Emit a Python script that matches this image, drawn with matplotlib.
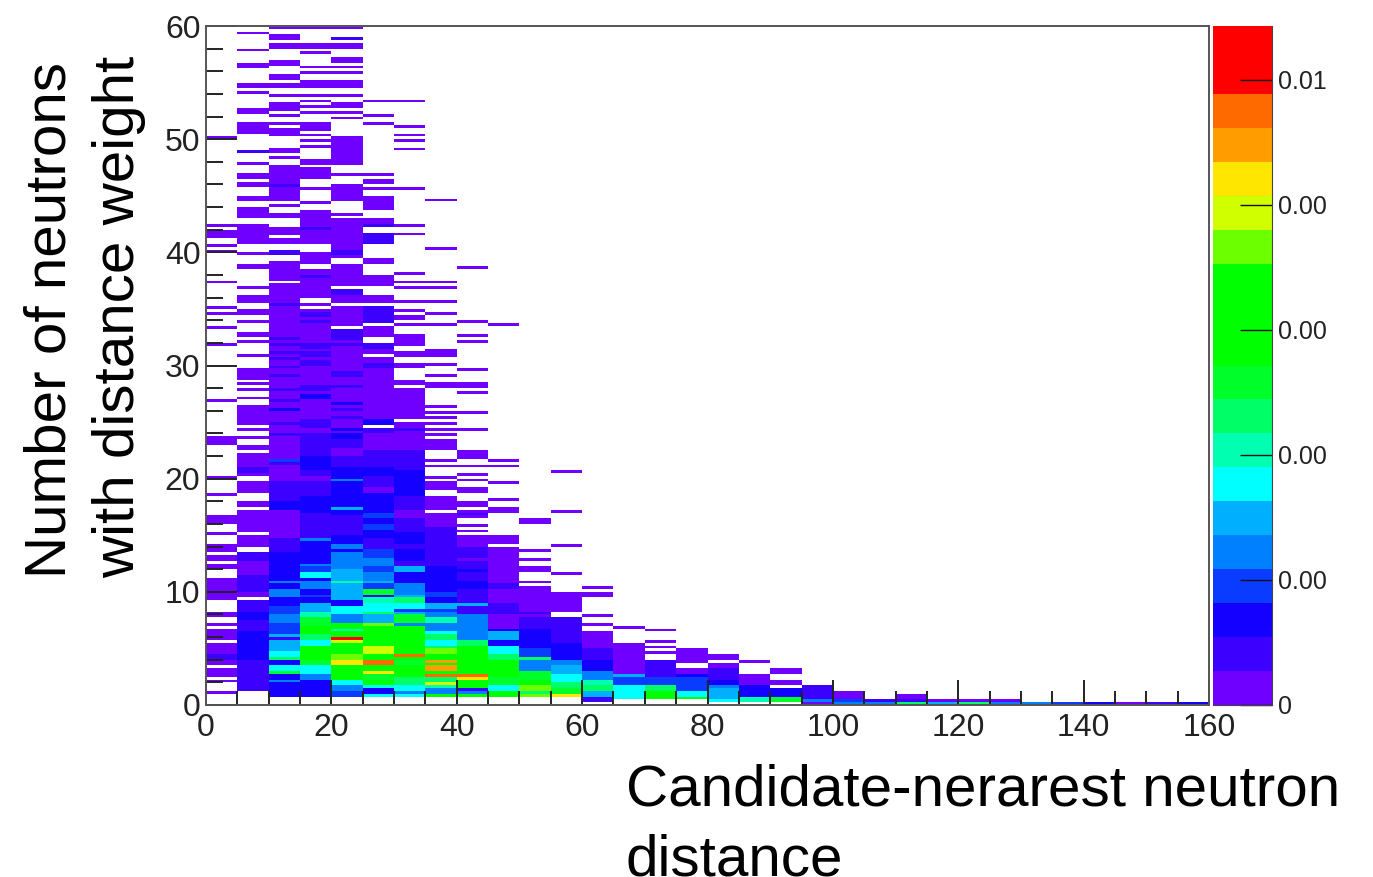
import numpy as np
import matplotlib
matplotlib.use('Agg')
import matplotlib.pyplot as plt
from matplotlib.colors import ListedColormap, BoundaryNorm

plt.rcParams['font.family'] = ['Liberation Sans', 'DejaVu Sans']

# palette steps of the colour bar, bottom to top (19 and 20 are both red)
level_colors = ['#6f00ff', '#3c00ff', '#1400ff', '#0a3cff', '#0080ff', '#00b0ff', '#00ffff',
                '#00ffb0', '#00ff66', '#00ff2a', '#00ff00', '#00ff00', '#00ff00', '#6cff00',
                '#d0ff00', '#ffe600', '#ff9c00', '#ff6a00', '#ff0000', '#ff0000']
z_max = 0.01086
z_ticks = [0, 0.002, 0.004, 0.006, 0.008, 0.01]
z_labels = ['0', '0.00', '0.00', '0.00', '0.00', '0.01']

x_edges = np.arange(0, 165, 5)
y_edges = np.arange(0, 60.25, 0.25)

# one list per 5-wide x bin: (y from, y to, colour step)
col_00 = [(50, 50.25, 1), (42.25, 42.5, 1), (41.25, 41.75, 1), (41.75, 42, 1), (40.5, 40.75, 1), (40, 40.25, 1),
          (37.25, 37.5, 1), (35, 35.25, 1), (34.5, 34.75, 1), (33.25, 33.5, 1), (31.75, 32, 1), (26.75, 27, 1),
          (23, 23.75, 1), (20, 20.25, 1), (18.5, 18.75, 1), (16, 16.75, 1), (15, 15.25, 1), (13.5, 14.25, 1),
          (12.75, 13.25, 1), (12, 12.5, 1), (10, 11.25, 1), (9.25, 10, 1), (7.75, 8.25, 1), (7, 7.25, 1),
          (5.75, 6.75, 1), (5.25, 5.5, 1), (3.5, 5.25, 1), (4, 4.5, 2), (2.5, 3.25, 1), (2, 2.25, 1), (1, 1.25, 1)]
col_01 = [(59.25, 59.5, 1), (57.75, 58, 1), (56.25, 56.75, 1), (54.75, 55, 1), (54.5, 54.75, 1), (54, 54.25, 1),
          (52.25, 52.75, 1), (51, 51.5, 1), (50.5, 51, 1), (48.75, 49, 2), (47.75, 48, 1), (46.5, 47, 1),
          (45.75, 46.25, 1), (44.5, 45, 1), (43, 44, 1), (41, 42.5, 1), (40.75, 41, 1), (39.75, 40, 1), (38.5, 39, 1),
          (36.75, 37, 1), (35.5, 36.25, 1), (34.5, 35, 1), (33.75, 34, 1), (32.5, 33, 1), (32, 32.25, 1),
          (30.75, 31, 1), (28.75, 29.75, 1), (28.25, 28.5, 1), (27.75, 28, 1), (27, 27.25, 1), (24.75, 26.5, 1),
          (24.25, 24.5, 1), (23.5, 23.75, 1), (22.5, 23, 1), (20.25, 22.25, 1), (20.5, 21, 2), (18.75, 19.75, 1),
          (17.5, 18, 1), (15.25, 17.25, 1), (14, 15, 1), (12.75, 13.5, 2), (11.5, 12.75, 1), (10, 11.5, 2), (9.5, 10, 1),
          (8.25, 9.25, 2), (7.5, 8.25, 3), (6.5, 7.5, 2), (5.5, 6.5, 3), (4, 5.5, 3), (3.5, 4, 2), (2.5, 3.5, 2), (1.25, 2.5, 2)]
col_02 = [(0.75, 23, 2), (59.75, 60, 1), (58.75, 59.25, 1), (58, 58.5, 1), (56.5, 57, 1), (55.25, 55.75, 1), (54.5, 55, 1), (53.75, 54, 1),
          (52.5, 53.25, 1), (52, 52.25, 1), (51.25, 51.5, 1), (50.25, 51, 1), (48.75, 49.25, 1), (48.25, 48.5, 1),
          (44.5, 47.75, 1), (45.75, 46, 2), (44, 44.25, 1), (43, 43.5, 1), (41.5, 42.25, 1), (40.75, 41.25, 1),
          (39.75, 40.25, 2), (37.5, 39.25, 1), (23, 37.25, 1), (35.25, 35.5, 2), (32.25, 32.5, 2), (31.75, 32, 2),
          (31, 31.25, 2), (30.5, 30.75, 2), (29.75, 30, 2), (29, 29.25, 2), (28.25, 28.5, 1), (27.75, 28, 2),
          (26.75, 27, 2), (26, 26.25, 3), (24.75, 25, 2), (23.75, 24, 2), (21.75, 23.5, 1), (21.5, 21.75, 4), (21.25, 21.5, 2),
          (19.75, 21.25, 1), (18, 19.75, 2), (17.25, 18, 3), (14.75, 17.25, 1), (13.5, 14.75, 2), (11.75, 13.5, 3), (11, 11.75, 3),
          (10.75, 11, 5), (10.25, 10.75, 3), (9.5, 10.25, 5), (8.75, 9.5, 3), (8, 8.75, 4), (7.25, 8, 5), (6.25, 7.25, 4),
          (6, 6.25, 6), (5.25, 5.75, 6), (4.75, 5.25, 6), (4.25, 4.75, 7), (4, 4.25, 9), (3.5, 4, 3), (3, 3.5, 7),
          (2.75, 3, 10), (2.25, 2.75, 3), (2, 2.25, 5), (0.75, 2, 3)]
col_03 = [(0.75, 24, 3), (59.75, 60, 1), (58, 58.5, 1), (57.5, 57.75, 1), (56.25, 56.5, 1), (55.75, 56, 1), (54.5, 55.25, 1),
          (53.75, 54, 1), (53.25, 53.5, 1), (52.75, 53, 1), (52.25, 52.5, 1), (50.75, 51.5, 1), (50.25, 50.5, 1),
          (49.75, 50, 1), (49.25, 49.5, 1), (47.75, 48.25, 1), (46.5, 47.5, 1), (45.5, 45.75, 1), (44.25, 44.5, 1),
          (42.75, 43.75, 1), (41, 42.75, 1), (42, 42.25, 2), (41, 42, 1), (40.75, 41, 1), (39, 40, 1),
          (36, 38.5, 1), (37.75, 38, 2), (35.25, 35.5, 1), (24, 35, 1), (34.25, 34.75, 2), (33.75, 34, 2),
          (31.5, 32, 2), (30.75, 31.25, 2), (30, 30.5, 2), (27.75, 28.25, 2), (27, 27.5, 3), (24.5, 25.25, 2), (23.25, 24, 2),
          (22, 23.5, 2), (20.75, 22, 3), (20.25, 20.75, 2), (19.75, 20.25, 1), (18.5, 19.75, 2), (17, 18.5, 3),
          (14.75, 17, 2), (14.5, 14.75, 5), (12.5, 14.5, 3), (12.25, 12.5, 5), (11.75, 12.25, 4), (11.25, 11.75, 7),
          (11, 11.25, 3), (10.25, 11, 5), (9.75, 10.25, 3), (9.5, 9.75, 4), (9, 9.5, 3), (8.25, 9, 6), (7.75, 8.25, 8),
          (7, 7.75, 10), (6.25, 7, 11), (5.75, 6.25, 9), (5.25, 5.75, 7), (4, 5.25, 11), (3.5, 4, 10), (2.75, 3.5, 7),
          (2.25, 2.75, 5), (0.75, 2.25, 3)]
col_04 = [(0.75, 24, 3), (59.75, 60, 1), (58.75, 59, 2), (58, 58.5, 1), (56.75, 57.25, 1), (56.25, 56.5, 1), (55.75, 56, 1), (55, 55.25, 1),
          (54.5, 55, 1), (53.75, 54, 1), (52.75, 53.25, 1), (52.25, 52.5, 1), (51.75, 52, 1), (49.25, 50.25, 1),
          (48.25, 49.25, 1), (47.75, 48.25, 1), (46.75, 47, 1), (45, 46, 1), (44.5, 45, 1), (43.25, 43.5, 1),
          (41.75, 43, 1), (41, 41.75, 1), (41.5, 42, 1), (39.5, 41.25, 1), (39.75, 40.25, 2), (37, 39, 1), (35.5, 36.75, 1),
          (36.25, 36.75, 2), (33.5, 35.25, 1), (24, 33.25, 1), (32.25, 33.25, 2), (31.75, 32, 2), (29, 29.5, 2),
          (28, 28.25, 2), (26.5, 26.75, 3), (26, 26.25, 2), (25.25, 25.5, 2), (24.25, 24.5, 3), (23, 23.75, 3),
          (22.75, 23.5, 2), (22, 22.75, 1), (21, 22, 2), (20, 21, 3), (19.75, 20, 5), (18.75, 19.75, 3), (17.5, 18.75, 3),
          (17.25, 17.5, 6), (16.75, 17.25, 3), (15, 16.75, 2), (14.25, 15, 3), (13.75, 14.25, 5), (13.5, 13.75, 3),
          (12.75, 13.5, 5), (12, 12.75, 5), (11.25, 12, 6), (11, 11.25, 6), (10.75, 11, 8), (10.25, 10.75, 6),
          (9.25, 10.25, 6), (8.75, 9, 3), (8, 8.75, 7), (7.25, 8, 5), (6.75, 7.25, 11), (6.5, 6.75, 8), (6, 6.5, 11),
          (5.75, 6, 19), (5.5, 5.75, 15), (4.5, 5.5, 11), (4, 4.5, 14), (3.5, 4, 16), (3, 3.5, 11), (2.75, 3, 13),
          (2.25, 2.75, 11), (1.75, 2.25, 7), (1.25, 1.75, 5), (0.75, 1.25, 4)]
col_05 = [(0.75, 23, 3), (53.25, 53.5, 1), (52, 52.25, 1), (51.25, 51.5, 1), (46.75, 47, 1), (46, 46.5, 1), (45.5, 45.75, 1),
          (43.75, 45, 1), (42.25, 43, 1), (42.25, 42.5, 2), (41.25, 41.75, 2), (40.75, 41.5, 2), (39, 39.5, 1),
          (37, 38, 1), (35.5, 36.25, 1), (33.75, 35.25, 2), (32.5, 33.5, 1), (31, 32, 1), (31.5, 32, 2), (27.25, 30.75, 1),
          (29.75, 30.25, 2), (25.25, 27.25, 1), (24.75, 25.25, 3), (24, 24.5, 2), (23, 24, 1),
          (22.5, 23.5, 1), (22, 22.5, 2), (21, 22, 2), (20.25, 21, 3), (19, 20.25, 2), (18.75, 19.25, 1), (17, 18.75, 3),
          (16.5, 17, 4), (16, 16.5, 3), (15.5, 16, 4), (14.75, 15.5, 3), (13.75, 14.75, 2), (13.25, 13.75, 4), (13, 13.25, 4),
          (12.25, 13, 5), (11.75, 12.25, 4), (11, 11.75, 5), (10.75, 11, 6), (10.25, 10.75, 4), (9.75, 10.25, 10),
          (9.5, 9.75, 3), (9, 9.5, 8), (8.25, 9, 7), (8, 8.25, 9), (7.25, 8, 6), (7, 7.25, 14), (6.5, 7, 11), (6.25, 6.5, 12),
          (5.25, 6.25, 11), (4.5, 5.25, 15), (4, 4.5, 12), (3.5, 4, 18), (3, 3.5, 11), (2.75, 3, 16), (2.25, 2.75, 10),
          (1.75, 2.25, 12), (1.5, 1.75, 7), (1, 1.5, 3), (0.75, 1, 7)]
col_06 = [(0.75, 23, 3), (53.25, 53.5, 1), (51, 51.25, 1), (50.25, 50.5, 1), (49.75, 50, 1), (49, 49.25, 1), (45.5, 45.75, 1),
          (42.25, 42.5, 1), (41.5, 41.75, 1), (38, 38.25, 1), (37.25, 37.5, 1), (36.75, 37, 1), (35.5, 35.75, 1),
          (34.75, 35, 1), (34, 34.5, 1), (33.5, 33.75, 1), (31.75, 32.75, 1), (30.75, 31.25, 1), (29.75, 30.25, 1),
          (28.25, 28.75, 1), (27.5, 28, 1), (25.25, 27.5, 1), (23.25, 25, 1), (24.25, 24.5, 2),
          (22.5, 23.25, 1), (20.75, 22.5, 2), (20.25, 20.75, 3), (19.25, 20.25, 3), (18.5, 19.25, 3), (17.25, 18.5, 2),
          (16.5, 17.25, 1), (15.25, 16.5, 2), (14.25, 15, 3), (13.75, 14.25, 2), (12.75, 13.75, 3), (12.25, 12.75, 2),
          (11.75, 12.25, 6), (10.75, 11.75, 3), (10.25, 10.75, 5), (9.75, 10.25, 5), (9.5, 9.75, 6), (9, 9.5, 9),
          (8.5, 9, 7), (8.25, 8.5, 4), (8, 8.25, 6), (7.25, 8, 10), (7, 7.25, 5), (5.75, 7, 12), (4.75, 5.75, 12),
          (4.25, 4.5, 18), (4.5, 4.75, 12), (4, 4.25, 12), (3.5, 4, 10), (3, 3.5, 12), (2.5, 3, 11), (1.75, 2.5, 9),
          (1.25, 1.75, 7), (1, 1.25, 5), (0.75, 1, 7)]
col_07 = [(0.75, 13, 3), (44.5, 44.75, 1), (40.25, 40.5, 1), (37.25, 37.5, 1), (36.75, 37, 1), (35.5, 35.75, 1), (34.5, 34.75, 1),
          (33.5, 33.75, 1), (30.75, 31.5, 1), (30, 30.25, 1), (29, 29.25, 1), (28, 28.5, 1), (26.25, 26.5, 1),
          (25.75, 26, 1), (25.25, 25.5, 1), (24.75, 25, 1), (24.25, 24.5, 1), (23.75, 24, 1), (23.25, 23.5, 1),
          (22.5, 23, 1), (23, 23.25, 1), (21.5, 21.75, 1), (21, 21.25, 1), (20, 20.25, 1), (19, 19.75, 1), (17.25, 18.5, 1),
          (15.75, 17, 1), (13, 15.75, 2), (12.25, 13, 2), (11, 12.25, 3), (10.25, 11, 3), (9.5, 10, 4), (8.5, 9, 6),
          (8.25, 8.5, 4), (7.75, 8.25, 5), (7.25, 7.75, 8), (6.5, 7.25, 5), (6.25, 6.5, 7), (5.75, 6.25, 9), (5.25, 5.75, 7),
          (5, 5.25, 9), (4.5, 5, 14), (4, 4.5, 12), (3.75, 4, 17), (3.5, 3.75, 11), (3, 3.5, 17), (2.75, 3, 11),
          (2.5, 2.75, 18), (2, 2.5, 9), (1.75, 2, 15), (1.5, 1.75, 8), (1, 1.5, 5), (0.75, 1, 11)]
col_08 = [(0.75, 12.75, 2), (38.5, 38.75, 1), (33.75, 34, 1), (32.5, 32.75, 1), (32, 32.25, 1), (29.5, 29.75, 1), (28, 28.5, 1),
          (27.5, 27.75, 1), (25.75, 26, 1), (24.25, 24.5, 1), (21.75, 22.5, 1), (21, 21.25, 1), (20.25, 20.5, 1), (19.75, 20, 1),
          (18.75, 19.25, 1), (17.5, 18, 1), (16.5, 17.25, 1), (16.75, 17, 2), (15.75, 16, 1), (15.25, 15.5, 1),
          (12.75, 15, 1), (13, 14, 2), (12, 12.75, 2), (11.75, 12, 3), (11, 11.75, 2), (10.25, 11, 3), (9, 10.25, 2), (8.75, 9, 6),
          (8, 8.75, 2), (6.75, 8, 5), (5.75, 6.75, 5), (5.25, 5.75, 9), (4, 5.25, 11), (3.5, 4, 11), (3, 3.5, 13),
          (2.75, 3, 11), (2.5, 2.75, 18), (2.25, 2.5, 16), (1.5, 2.25, 12), (1.25, 1.5, 2), (1, 1.25, 5), (0.75, 1, 11)]
col_09 = [(0.75, 10.75, 1), (33.5, 33.75, 1), (21.5, 21.75, 1), (21, 21.25, 1), (19.5, 19.75, 1), (18, 18.25, 1), (17, 17.5, 1),
          (14.25, 15, 1), (13.75, 14, 1), (10.75, 13.75, 1), (10.25, 10.75, 2), (9, 10.25, 1), (8, 9, 2), (6.75, 8, 1),
          (6.5, 6.75, 3), (5.75, 6.5, 6), (5.25, 5.75, 3), (4.5, 5.25, 7), (4, 4.5, 9), (3, 4, 11), (2.5, 3, 11),
          (1.75, 2.5, 10), (1.25, 1.75, 7), (0.75, 1.25, 11)]
col_10 = [(0.75, 8.25, 2), (16, 16.5, 1), (13.5, 13.75, 1), (12.75, 13, 1), (11.75, 12.25, 1), (10.75, 11, 1), (8.25, 10.5, 1), (7.75, 8, 1),
          (6.75, 7.75, 2), (5.5, 6.75, 3), (5, 5.5, 3), (4.25, 5, 4), (4, 4.25, 9), (3, 4, 5), (2.25, 3, 10), (1.75, 2.25, 11),
          (1.25, 1.75, 14), (1, 1.25, 9), (0.75, 1, 14)]
col_11 = [(0.75, 7.75, 2), (20.5, 20.75, 1), (17, 17.25, 1), (14, 14.25, 1), (11.5, 11.75, 1), (8.25, 10, 1), (6.25, 7.75, 2), (5.5, 6.25, 2),
          (4, 5.5, 3), (3.5, 4, 5), (2.75, 3.5, 6), (2, 2.75, 7), (1.5, 2, 9), (1, 1.5, 10), (0.75, 1, 16)]
col_12 = [(0.5, 5, 2), (10.25, 10.5, 1), (9.5, 10, 1), (7.75, 8, 1), (7, 7.25, 1), (5.5, 6.5, 1), (5, 5.5, 1), (4, 5, 2), (3, 4, 3),
          (2.25, 3, 5), (1.75, 2.25, 8), (1.25, 1.75, 9), (0.75, 1.25, 6), (0.25, 0.5, 2)]
col_13 = [(6.75, 7, 1), (3.25, 5.5, 1), (2.75, 3.25, 1), (2.5, 2.75, 6), (1.75, 2.5, 4), (0.5, 1.75, 7)]
col_14 = [(6.5, 6.75, 1), (5.5, 5.75, 1), (5, 5.25, 1), (4.5, 4.75, 1), (3.25, 4, 2), (2.5, 3.25, 2), (1.75, 2.5, 4),
          (1.25, 1.75, 9), (0.5, 1.25, 11)]
col_15 = [(3.75, 5, 1), (2.75, 3.25, 1), (2.5, 2.75, 3), (1.25, 2.5, 4), (0.75, 1.25, 7), (0.5, 0.75, 11)]
col_16 = [(4, 4.5, 1), (3.25, 3.75, 1), (2.25, 3.25, 2), (1.75, 2.25, 3), (1.5, 1.75, 5), (0.5, 1.5, 6), (0.25, 0.5, 7)]
col_17 = [(3.75, 4, 1), (1.75, 2.75, 1), (0.75, 1.75, 3), (0.25, 0.75, 8)]
col_18 = [(2.75, 3.25, 1), (1.75, 2.25, 1), (0.75, 1.5, 3), (0.25, 0.75, 10)]
col_19 = [(1, 1.75, 2), (0.5, 1, 2), (0.25, 0.5, 5), (0, 0.25, 1)]
col_20 = [(0.5, 1.25, 1), (0.25, 0.5, 4), (0, 0.25, 5)]
col_21 = [(0.25, 0.5, 2), (0, 0.25, 5)]
col_22 = [(0.5, 1, 1), (0.25, 0.5, 2), (0, 0.25, 9)]
col_23 = [(0.25, 0.5, 1), (0, 0.25, 6)]
col_24 = [(0.25, 0.5, 1), (0, 0.25, 9)]
col_25 = [(0.25, 0.5, 1), (0, 0.25, 5)]
col_26 = [(0, 0.25, 5)]
col_27 = [(0, 0.25, 4)]
col_28 = [(0, 0.25, 3)]
col_29 = [(0, 0.25, 1)]
col_30 = [(0, 0.25, 2)]
col_31 = [(0, 0.25, 3)]

columns = [col_00, col_01, col_02, col_03, col_04, col_05, col_06, col_07,
           col_08, col_09, col_10, col_11, col_12, col_13, col_14, col_15,
           col_16, col_17, col_18, col_19, col_20, col_21, col_22, col_23,
           col_24, col_25, col_26, col_27, col_28, col_29, col_30, col_31]

steps = np.zeros((len(y_edges) - 1, len(x_edges) - 1))
for i, bands in enumerate(columns):
    for lo, hi, lev in bands:
        steps[int(round(lo / 0.25)):int(round(hi / 0.25)), i] = lev

z_step = z_max / 20
hist = np.ma.masked_equal((steps - 0.5) * z_step, -0.5 * z_step)

cmap = ListedColormap(level_colors)
norm = BoundaryNorm(np.arange(21) * z_step, cmap.N)

W, H = 1373, 877
fig = plt.figure(figsize=(W / 100, H / 100), dpi=100)
ax = fig.add_axes([206 / W, 1 - 705 / H, (1209 - 206) / W, (705 - 26) / H])
ax.pcolormesh(x_edges, y_edges, hist, cmap=cmap, norm=norm, rasterized=True)
ax.set_xlim(0, 160)
ax.set_ylim(0, 60)
ax.set_xticks(np.arange(0, 161, 20))
ax.set_xticks(np.arange(0, 161, 5), minor=True)
ax.set_yticks(np.arange(0, 61, 10))
ax.set_yticks(np.arange(0, 61, 2), minor=True)
ax.tick_params(axis='x', which='major', direction='in', length=18, width=1.4, color='#222222',
               labelsize=23, labelcolor='#222222', pad=6)
ax.tick_params(axis='x', which='minor', direction='in', length=10, width=1.4, color='#222222')
ax.tick_params(axis='y', which='major', direction='in', length=22, width=1.4, color='#222222',
               labelsize=23, labelcolor='#222222', pad=4)
ax.tick_params(axis='y', which='minor', direction='in', length=12, width=1.4, color='#222222')
for s in ax.spines.values():
    s.set_color('#555555')
    s.set_linewidth(1.4)

# colour bar, built the same way from its own steps
cax = fig.add_axes([1213 / W, 1 - 705 / H, (1272 - 1213) / W, (705 - 26) / H])
bar_edges = np.arange(21) * z_step
bar_vals = (bar_edges[:-1] + bar_edges[1:]) / 2
cax.pcolormesh([0, 1], bar_edges, bar_vals[:, None], cmap=cmap, norm=norm)
cax.set_xlim(0, 1)
cax.set_ylim(0, z_max)
cax.set_xticks([])
cax.yaxis.tick_right()
cax.set_yticks(z_ticks)
cax.set_yticklabels(z_labels)
cax.tick_params(axis='y', direction='in', length=23, width=1, color='#111111', labelsize=18,
                labelcolor='#222222', pad=4)
cax.spines['left'].set_visible(False)
cax.spines['top'].set_visible(False)
cax.spines['right'].set_color('#444444')
cax.spines['bottom'].set_color('#444444')

# axis titles are two separately placed lines
fig.text(66 / W, 1 - 578 / H, 'Number of neutrons', rotation=90, rotation_mode='anchor', fontsize=42,
         ha='left', va='baseline', color='black')
fig.text(134 / W, 1 - 578 / H, 'with distance weight', rotation=90, rotation_mode='anchor', fontsize=42,
         ha='left', va='baseline', color='black')
fig.text(626 / W, 1 - 806 / H, 'Candidate-nerarest neutron', fontsize=42, ha='left', va='baseline', color='black')
fig.text(626 / W, 1 - 875 / H, 'distance', fontsize=42, ha='left', va='baseline', color='black')

fig.savefig('out.png', dpi=100)
